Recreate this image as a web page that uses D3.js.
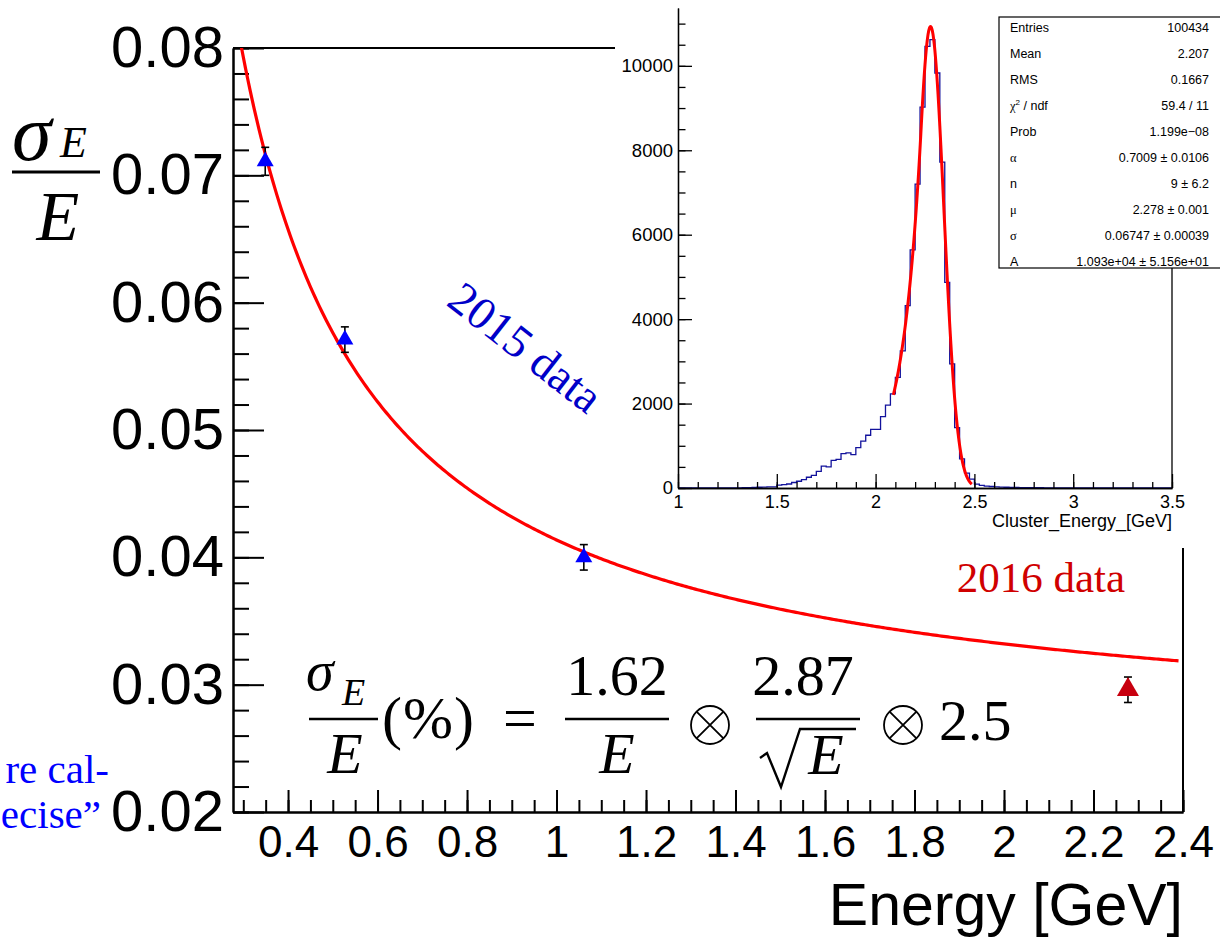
<!DOCTYPE html>
<html>
<head>
<meta charset="utf-8">
<script src="https://cdnjs.cloudflare.com/ajax/libs/d3/7.8.5/d3.min.js"></script>
<style>
  body { margin: 0; background: #fff; }
  svg { display: block; }
  .axis text { font-family: "Liberation Sans", Arial, sans-serif; fill: #000; }
  .serif { font-family: "Liberation Serif", "Times New Roman", serif; }
  .ital { font-family: "Liberation Serif", "Times New Roman", serif; font-style: italic; }
</style>
</head>
<body>
<div id="chart"></div>
<script>
// energy resolution points
var energy2015 = [0.349, 0.527, 1.061];
var sigma2015 = [0.0711, 0.0571, 0.0400];
var err2015 = [0.0011, 0.0010, 0.0010];
var energy2016 = [2.277];
var sigma2016 = [0.0296];
var err2016 = [0.0010];

// terms of the resolution fit, in % (a/E (+) b/sqrt(E) (+) c)
var fitTerms = [1.62, 2.87, 2.5];

var xTicks = [0.4, 0.6, 0.8, 1.0, 1.2, 1.4, 1.6, 1.8, 2.0, 2.2, 2.4];
var yTicks = [0.02, 0.03, 0.04, 0.05, 0.06, 0.07, 0.08];

// inset histogram: 100 bins from 1 to 3.5 GeV
var histLow = 1, histBinWidth = 0.025;
var histCounts = [
  0, 0, 1, 0, 1, 2, 1, 2, 3, 3,
  3, 4, 5, 7, 9, 15, 18, 22, 25, 28,
  70, 80, 95, 130, 160, 200, 255, 300, 395, 520,
  500, 655, 680, 815, 830, 790, 955, 1110, 1250, 1390,
  1390, 1690, 1965, 2230, 2620, 3250, 4320, 5640, 7200, 9020,
  10460, 10620, 9830, 7720, 4870, 2940, 1430, 690, 350, 210,
  90, 60, 45, 35, 28, 22, 18, 15, 12, 10,
  9, 8, 7, 6, 5, 5, 4, 4, 3, 3,
  2, 2, 2, 1, 1, 1, 1, 0, 1, 0,
  0, 1, 0, 0, 0, 0, 0, 0, 0, 0
];
var histXTicks = [1, 1.5, 2, 2.5, 3, 3.5];
var histYTicks = [0, 2000, 4000, 6000, 8000, 10000];

// stats box
var statNames = ["Entries", "Mean", "RMS", "chi", "Prob", "α", "n", "μ", "σ", "A"];
var statValues = ["100434", "2.207", "0.1667", "59.4 / 11", "1.199e\u221208",
  "0.7009 ± 0.0106", "9 ± 6.2", "2.278 ± 0.001", "0.06747 ± 0.00039", "1.093e+04 ± 5.156e+01"];

// crystal ball fit parameters
var cbAlpha = 0.7009, cbN = 9, cbMu = 2.278, cbSigma = 0.06747, cbA = 1.093e4;
var cbRange = [2.09, 2.487];

var width = 1220, height = 938;

var svg = d3.select("#chart")
  .append("svg")
  .attr("width", width)
  .attr("height", height);

// ---------- main plot ----------
var xScale = d3.scaleLinear().domain([0.277, 2.4]).range([233, 1183]);
var yScale = d3.scaleLinear().domain([0.02, 0.08]).range([812, 48]);

var xMinor = d3.range(0.3, 2.401, 0.05);
var yMinor = d3.range(0.02, 0.0801, 0.002);

function styleAxis(g, w) {
  g.selectAll("line").attr("stroke-width", w);
  g.selectAll(".domain").attr("stroke-width", w);
}

svg.append("g")
  .attr("class", "axis")
  .attr("transform", "translate(0,812)")
  .call(d3.axisBottom(xScale).tickValues(xMinor).tickSize(-12).tickSizeOuter(0).tickFormat(""))
  .call(styleAxis, 2);

svg.append("g")
  .attr("class", "axis")
  .attr("transform", "translate(0,812)")
  .call(d3.axisBottom(xScale).tickValues(xTicks).tickSize(-22).tickSizeOuter(0).tickPadding(14)
    .tickFormat(function(d) { return +d.toFixed(1); }))
  .call(styleAxis, 2)
  .selectAll("text").style("font-size", "44px");

svg.append("g")
  .attr("class", "axis")
  .attr("transform", "translate(233,0)")
  .call(d3.axisLeft(yScale).tickValues(yMinor).tickSize(-16).tickSizeOuter(0).tickFormat(""))
  .call(styleAxis, 2);

svg.append("g")
  .attr("class", "axis")
  .attr("transform", "translate(233,0)")
  .call(d3.axisLeft(yScale).tickValues(yTicks).tickSize(-31).tickSizeOuter(0).tickPadding(9)
    .tickFormat(function(d) { return d.toFixed(2); }))
  .call(styleAxis, 2)
  .selectAll("text").style("font-size", "58px");

// frame top and right
svg.append("line")
  .attr("x1", xScale.range()[0]).attr("x2", xScale.range()[1])
  .attr("y1", yScale.range()[1]).attr("y2", yScale.range()[1])
  .attr("stroke", "#000").attr("stroke-width", 2);
svg.append("line")
  .attr("x1", xScale.range()[1]).attr("x2", xScale.range()[1])
  .attr("y1", yScale.range()[1]).attr("y2", yScale.range()[0])
  .attr("stroke", "#000").attr("stroke-width", 2);

svg.append("clipPath").attr("id", "mainClip")
  .append("rect")
  .attr("x", 233).attr("y", 48).attr("width", 950).attr("height", 764);

// resolution fit curve
function resolution(e) {
  var a = fitTerms[0] / e, b = fitTerms[1] / Math.sqrt(e), c = fitTerms[2];
  return Math.sqrt(a * a + b * b + c * c) / 100;
}
var fitE = d3.range(0.28, 2.39, 0.005);
svg.append("path")
  .datum(fitE)
  .attr("clip-path", "url(#mainClip)")
  .attr("fill", "none")
  .attr("stroke", "#ff0000")
  .attr("stroke-width", 3.2)
  .attr("d", d3.line()
    .x(function(d) { return xScale(d); })
    .y(function(d) { return yScale(resolution(d)); }));

// points with error bars
function drawPoints(es, vals, errs, color, size) {
  var pts = es.map(function(e, i) { return {e: e, v: vals[i], err: errs[i]}; });
  var g = svg.append("g");
  pts.forEach(function(p) {
    var cx = xScale(p.e);
    g.append("line")
      .attr("x1", cx).attr("x2", cx)
      .attr("y1", yScale(p.v + p.err)).attr("y2", yScale(p.v - p.err))
      .attr("stroke", "#000").attr("stroke-width", 1.6);
    [p.v + p.err, p.v - p.err].forEach(function(v) {
      g.append("line")
        .attr("x1", cx - 4).attr("x2", cx + 4)
        .attr("y1", yScale(v)).attr("y2", yScale(v))
        .attr("stroke", "#000").attr("stroke-width", 1.6);
    });
    g.append("path")
      .attr("transform", "translate(" + cx + "," + yScale(p.v) + ")")
      .attr("d", d3.symbol().type(d3.symbolTriangle).size(size)())
      .attr("fill", color);
  });
}
drawPoints(energy2015, sigma2015, err2015, "#0000ff", 125);
drawPoints(energy2016, sigma2016, err2016, "#c8000f", 210);

// y axis title sigma_E / E
svg.append("text").attr("class", "ital").attr("x", 12).attr("y", 160)
  .style("font-size", "80px").style("font-weight", "300").text("σ");
svg.append("text").attr("class", "ital").attr("x", 60).attr("y", 157)
  .style("font-size", "44px").text("E");
svg.append("line").attr("x1", 12).attr("x2", 100).attr("y1", 172).attr("y2", 172)
  .attr("stroke", "#000").attr("stroke-width", 3);
svg.append("text").attr("class", "ital").attr("x", 58).attr("y", 240)
  .attr("text-anchor", "middle").style("font-size", "70px").text("E");

// x axis title
svg.append("text")
  .attr("x", 1183).attr("y", 925)
  .attr("text-anchor", "end")
  .style("font-family", "'Liberation Sans', Arial, sans-serif")
  .style("font-size", "59px")
  .text("Energy [GeV]");

// labels
svg.append("text").attr("class", "serif")
  .attr("transform", "translate(526,347) rotate(38)")
  .attr("text-anchor", "middle").attr("dy", "0.35em")
  .style("font-size", "46px").style("fill", "#0000c8")
  .text("2015 data");
svg.append("text").attr("class", "serif")
  .attr("x", 1125).attr("y", 592).attr("text-anchor", "end")
  .style("font-size", "43px").style("fill", "#d00000")
  .text("2016 data");

svg.append("text").attr("class", "serif")
  .attr("x", 109).attr("y", 783).attr("text-anchor", "end")
  .style("font-size", "41px").style("fill", "#0000ff")
  .text("re cal-");
svg.append("text").attr("class", "serif")
  .attr("x", 101).attr("y", 828).attr("text-anchor", "end")
  .style("font-size", "41px").style("fill", "#0000ff")
  .text("ecise\u201D");

// formula
var fg = svg.append("g");
function fracBar(x1, x2) {
  fg.append("line").attr("x1", x1).attr("x2", x2).attr("y1", 719).attr("y2", 719)
    .attr("stroke", "#000").attr("stroke-width", 2.4);
}
function otimes(cx) {
  fg.append("circle").attr("cx", cx).attr("cy", 725).attr("r", 19)
    .attr("fill", "none").attr("stroke", "#000").attr("stroke-width", 1.8);
  var r = 19 * 0.7071;
  fg.append("path")
    .attr("d", "M" + (cx - r) + "," + (725 - r) + "L" + (cx + r) + "," + (725 + r) +
      "M" + (cx + r) + "," + (725 - r) + "L" + (cx - r) + "," + (725 + r))
    .attr("stroke", "#000").attr("stroke-width", 1.8);
}
fg.append("text").attr("class", "ital").attr("x", 306).attr("y", 690)
  .style("font-size", "56px").text("σ");
fg.append("text").attr("class", "ital").attr("x", 342).attr("y", 705)
  .style("font-size", "38px").text("E");
fracBar(309, 378);
fg.append("text").attr("class", "ital").attr("x", 345).attr("y", 773)
  .attr("text-anchor", "middle").style("font-size", "58px").text("E");
fg.append("text").attr("class", "serif").attr("x", 382).attr("y", 738)
  .attr("textLength", 92).style("font-size", "60px").text("(%)");
fg.append("text").attr("class", "serif").attr("x", 520).attr("y", 738)
  .attr("text-anchor", "middle").style("font-size", "60px").text("=");
fg.append("text").attr("class", "serif").attr("x", 617).attr("y", 695)
  .attr("text-anchor", "middle").style("font-size", "58px").text(fitTerms[0].toFixed(2));
fracBar(565, 669);
fg.append("text").attr("class", "ital").attr("x", 617).attr("y", 773)
  .attr("text-anchor", "middle").style("font-size", "58px").text("E");
otimes(710);
fg.append("text").attr("class", "serif").attr("x", 803).attr("y", 695)
  .attr("text-anchor", "middle").style("font-size", "58px").text(fitTerms[1].toFixed(2));
fracBar(756, 860);
fg.append("path")
  .attr("d", "M760,758 L767,753 L781,787 L800,729 L856,729")
  .attr("fill", "none").attr("stroke", "#000").attr("stroke-width", 2.4)
  .attr("stroke-linejoin", "miter");
fg.append("text").attr("class", "ital").attr("x", 826).attr("y", 774)
  .attr("text-anchor", "middle").style("font-size", "58px").text("E");
otimes(903);
fg.append("text").attr("class", "serif").attr("x", 939).attr("y", 740)
  .style("font-size", "58px").text(fitTerms[2].toFixed(1));

// ---------- inset ----------
var inset = svg.append("g");
inset.append("rect")
  .attr("x", 615).attr("y", 0).attr("width", 605).attr("height", 548)
  .attr("fill", "#fff");

var hx = d3.scaleLinear().domain([1, 3.5]).range([678, 1172]);
var hy = d3.scaleLinear().domain([0, 11370]).range([488, 8]);

var histPts = histCounts.map(function(c, i) { return [histLow + i * histBinWidth, c]; });
histPts.unshift([histLow, 0]);
histPts.push([histLow + histCounts.length * histBinWidth, histCounts[histCounts.length - 1]]);
histPts.push([histLow + histCounts.length * histBinWidth, 0]);

inset.append("path")
  .datum(histPts)
  .attr("fill", "none")
  .attr("stroke", "#12129c")
  .attr("stroke-width", 1.3)
  .attr("d", d3.line()
    .x(function(d) { return hx(d[0]); })
    .y(function(d) { return hy(d[1]); })
    .curve(d3.curveStepAfter));

function crystalBall(x) {
  var t = (x - cbMu) / cbSigma;
  var a = Math.abs(cbAlpha);
  if (t > -a) return cbA * Math.exp(-0.5 * t * t);
  var A = Math.pow(cbN / a, cbN) * Math.exp(-0.5 * a * a);
  var B = cbN / a - a;
  return cbA * A * Math.pow(B - t, -cbN);
}
inset.append("path")
  .datum(d3.range(cbRange[0], cbRange[1], 0.001))
  .attr("fill", "none")
  .attr("stroke", "#ff0000")
  .attr("stroke-width", 3)
  .attr("d", d3.line()
    .x(function(d) { return hx(d); })
    .y(function(d) { return hy(crystalBall(d)); }));

inset.append("g")
  .attr("class", "axis")
  .attr("transform", "translate(0,488)")
  .call(d3.axisBottom(hx).tickValues(d3.range(1, 3.501, 0.1)).tickSize(-6).tickSizeOuter(0).tickFormat(""))
  .call(styleAxis, 1.3);
inset.append("g")
  .attr("class", "axis")
  .attr("transform", "translate(0,488)")
  .call(d3.axisBottom(hx).tickValues(histXTicks).tickSize(-14).tickSizeOuter(0).tickPadding(7)
    .tickFormat(function(d) { return d; }))
  .call(styleAxis, 1.3)
  .selectAll("text").style("font-size", "18px");

inset.append("g")
  .attr("class", "axis")
  .attr("transform", "translate(678,0)")
  .call(d3.axisLeft(hy).tickValues(d3.range(0, 11001, 500)).tickSize(-7.5).tickSizeOuter(0).tickFormat(""))
  .call(styleAxis, 1.3);
inset.append("g")
  .attr("class", "axis")
  .attr("transform", "translate(678,0)")
  .call(d3.axisLeft(hy).tickValues(histYTicks).tickSize(-14).tickSizeOuter(0).tickPadding(5)
    .tickFormat(d3.format("d")))
  .call(styleAxis, 1.3)
  .selectAll("text").style("font-size", "18.5px");

inset.append("line")
  .attr("x1", 1172).attr("x2", 1172).attr("y1", 268).attr("y2", 488)
  .attr("stroke", "#000").attr("stroke-width", 1.3);

inset.append("text")
  .attr("x", 1172).attr("y", 527)
  .attr("text-anchor", "end")
  .style("font-family", "'Liberation Sans', Arial, sans-serif")
  .style("font-size", "18px")
  .text("Cluster_Energy_[GeV]");

// stats box
inset.append("rect")
  .attr("x", 999).attr("y", 17).attr("width", 240).attr("height", 251)
  .attr("fill", "#fff").attr("stroke", "#000").attr("stroke-width", 1.2);

statNames.forEach(function(name, i) {
  var yy = 27.7 + i * 26 + 4.5;
  var t = inset.append("text")
    .attr("x", 1010).attr("y", yy)
    .style("font-family", "'Liberation Sans', Arial, sans-serif")
    .style("font-size", "12.5px");
  if (name === "chi") {
    t.append("tspan").style("font-family", "'Liberation Serif', serif").text("χ");
    t.append("tspan").attr("dy", -5).style("font-size", "8px").text("2");
    t.append("tspan").attr("dy", 5).text(" / ndf");
  } else if (name === "α" || name === "μ" || name === "σ") {
    t.style("font-family", "'Liberation Serif', serif").text(name);
  } else {
    t.text(name);
  }
  inset.append("text")
    .attr("x", 1209).attr("y", yy)
    .attr("text-anchor", "end")
    .style("font-family", "'Liberation Sans', Arial, sans-serif")
    .style("font-size", "12.5px")
    .text(statValues[i]);
});
</script>
</body>
</html>
